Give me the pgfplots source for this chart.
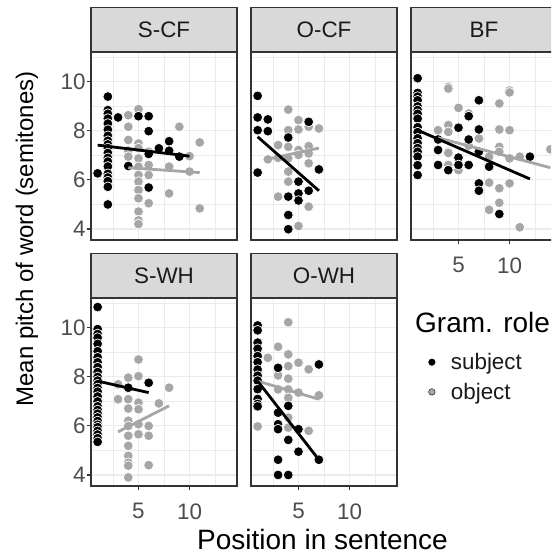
\documentclass[border=0pt]{standalone}
\usepackage{fontspec}
\setmainfont{Liberation Sans}
\usepackage{pgfplots}
\pgfplotsset{compat=1.18}
\definecolor{obj}{HTML}{A6A6A6}
\definecolor{grey20}{HTML}{333333}
\definecolor{grey30}{HTML}{4D4D4D}
\definecolor{grey85}{HTML}{D9D9D9}
\definecolor{grey92}{HTML}{EBEBEB}
\definecolor{grey10}{HTML}{1A1A1A}
\newcommand\tickfont{\fontsize{22.4}{26}\selectfont}
\newcommand\titlefont{\fontsize{28}{32}\selectfont}
\newcommand\ytitlefont{\fontsize{24}{28}\selectfont}

\pgfplotsset{
  panel/.style={
    scale only axis, width=146pt, height=188pt,
    xmin=0.35, xmax=14.65, ymin=3.55, ymax=11.22,
    xtick={5,10}, ytick={4,6,8,10},
    minor xtick={2.5,7.5,12.5}, minor ytick={5,7,9,11},
    grid=both,
    major grid style={grey92, line width=1.1pt},
    minor grid style={grey92, line width=0.55pt},
    axis line style={grey20, line width=1.1pt},
    tick align=outside, major tick length=4pt, minor tick length=0pt,
    every tick/.style={grey20, line width=1.1pt},
    tick pos=left,
    tick label style={font=\tickfont, text=grey30},
    xticklabel style={yshift=-10pt},
    yticklabel style={xshift=2pt},
    /pgf/number format/assume math mode=true,
    every axis title shift=0pt,
    title style={at={(0.5,1)}, anchor=south, draw=grey20, line width=1.1pt,
      fill=grey85, minimum width=146pt, minimum height=43.5pt, inner sep=0pt,
      font=\tickfont, text=grey10, yshift=0pt},
    clip mode=individual,
  },
  nox/.style={xticklabels={}, xtick style={draw=none}},
  noy/.style={yticklabels={}, ytick style={draw=none}},
  sub/.style={only marks, mark=*, mark size=4.9pt,
    mark options={fill=black, draw=white, line width=0.7pt}},
  ob/.style={only marks, mark=*, mark size=4.9pt,
    mark options={fill=obj, draw=white, line width=0.7pt}},
  subl/.style={black, line width=2.8pt, no marks},
  obl/.style={obj, line width=2.8pt, no marks},
}

\begin{document}
\begin{tikzpicture}
\useasboundingbox (0,0) rectangle (551pt,556pt);
\clip (0,0) rectangle (551pt,556pt);

% ---------------- S-CF
\begin{axis}[panel, nox, at={(91pt,316pt)}, anchor=south west, title={S-CF}]
\addplot[ob] coordinates {
(4,8.64)(4,8.17)(4,7.63)(4,7.2)(4,6.95)
(5,8.89)(5,7.49)(5,7.3)(5,6.88)(5,6.54)(5,6.2)(5,5.93)(5,5.59)(5,5.25)(5,4.71)(5,4.35)(5,4.2)
(6,7.15)(6,6.61)(6,6.2)(6,5.05)(8,6.54)(8,5.45)(9,8.17)(10,6.97)(10,6.34)(11,7.53)(11,4.84)};
\addplot[sub] coordinates {
(1,6.27)
(2,9.4)(2,8.85)(2,8.7)(2,8.5)(2,8.3)(2,8.05)(2,7.8)(2,7.6)(2,7.45)(2,7.3)(2,7.1)(2,6.9)
(2,6.75)(2,6.55)(2,6.25)(2,6.1)(2,5.95)(2,5.72)(2,5.0)
(3,8.55)(4,6.57)(5,8.6)(6,8.6)(6,7.99)(6,7.06)(6,5.69)(7,7.29)(8,7.58)(8,7.19)(9,6.95)};
\addplot[obl] coordinates {(4,6.5)(11,6.3)};
\addplot[subl] coordinates {(1,7.42)(10,6.97)};
\end{axis}

% ---------------- O-CF
\begin{axis}[panel, nox, noy, at={(251pt,316pt)}, anchor=south west, title={O-CF}]
\addplot[ob] coordinates {
(4,8.87)(5,8.44)(4,8.03)(5,8.06)(6,8.17)(7,8.10)(3,7.42)(4,7.35)(5,7.22)(6,7.38)
(2,6.84)(3,6.9)(4,6.88)(5,7.02)(6,7.08)(6,6.68)(4,6.34)(4,5.93)(3,5.32)(6,4.91)(5,4.12)};
\addplot[sub] coordinates {
(1,9.43)(1,8.55)(1,8.03)(1,6.30)(2,8.47)(2,7.99)(4,7.73)(6,8.37)(7,6.43)(5,5.93)
(6,5.56)(5,5.45)(5,5.16)(4,5.32)(4,4.57)(4,3.99)};
\addplot[obl] coordinates {(2,6.85)(7,7.3)};
\addplot[subl] coordinates {(1,7.76)(7,5.56)};
\end{axis}

% ---------------- BF
\begin{axis}[panel, noy, at={(411pt,316pt)}, anchor=south west, title={BF}]
\addplot[ob] coordinates {
(4,9.8)(4,9.73)(4,8.24)(4,7.96)(4,7.15)(4,7.1)(4,6.61)(3,8.03)(5,8.94)(5,6.5)(5,6.40)
(6,8.71)(6,7.4)(7,7.69)(8,6.95)(8,5.89)(8,4.78)(9,9.12)(9,8.06)(9,7.35)(9,7.15)(9,5.66)(9,5.07)
(10,9.65)(10,9.57)(10,8.03)(10,6.88)(10,5.86)(11,6.95)(11,4.07)(14,7.25)};
\addplot[sub] coordinates {
(1,10.15)(1,9.55)(1,9.4)(1,9.25)(1,9.0)(1,8.85)(1,8.7)(1,8.5)(1,8.15)(1,7.95)(1,7.7)
(1,7.5)(1,7.3)(1,7.15)(1,6.95)(1,6.6)(1,6.2)
(3,7.65)(3,7.22)(3,6.61)(4,6.40)(5,8.13)(5,6.91)(5,6.61)(6,8.6)(6,7.65)(6,6.61)
(7,9.25)(7,8.06)(7,7.15)(7,5.86)(7,5.56)(8,6.54)(9,4.61)(12,6.95)};
\addplot[obl] coordinates {(3,7.72)(14,6.5)};
\addplot[subl] coordinates {(1,8.03)(12,6.04)};
\end{axis}

% ---------------- S-WH
\begin{axis}[panel, at={(91pt,70pt)}, anchor=south west, title={S-WH}]
\addplot[ob] coordinates {
(3,7.09)(3,7.70)(4,7.97)(4,7.52)(4,7.09)(4,6.71)(4,6.21)(4,6.0)(4,5.6)(4,5.19)(4,4.78)
(4,4.5)(4,4.38)(4,3.90)(5,8.71)(5,8.03)(5,6.95)(5,6.68)(5,6.07)(5,5.66)(6,6.0)(6,5.6)
(6,4.40)(7,6.92)(8,7.56)};
\addplot[sub] coordinates {
(1,10.85)(1,9.95)(1,9.75)(1,9.6)(1,9.35)(1,9.05)(1,8.8)(1,8.6)(1,8.4)(1,8.2)(1,8.0)
(1,7.85)(1,7.7)(1,7.55)(1,7.4)(1,7.2)(1,7.0)(1,6.8)(1,6.65)(1,6.5)(1,6.35)(1,6.2)
(1,6.05)(1,5.95)(1,5.8)(1,5.65)(1,5.5)(1,5.35)
(4,7.56)(6,7.76)};
\addplot[obl] coordinates {(3,5.76)(8,6.82)};
\addplot[subl] coordinates {(1,7.83)(6,7.36)};
\end{axis}

% ---------------- O-WH
\begin{axis}[panel, noy, at={(251pt,70pt)}, anchor=south west, title={O-WH},
  legend style={at={(rel axis cs:1.215,0.705)}, anchor=north west, draw=none,
    fill=none, inner sep=0pt, outer sep=0pt, row sep=12pt, column sep=15.5pt,
    nodes={inner sep=0pt, anchor=base west}, font=\tickfont, text=grey10},
  legend cell align=left,
  legend image code/.code={\fill[#1] (0pt,7.5pt) circle (3.3pt);}]
\addlegendimage{fill=black}
\addlegendentry{subject}
\addlegendimage{fill=obj}
\addlegendentry{object}
\addplot[ob] coordinates {
(1,9.93)(1,5.98)(1,7.6)(2,8.78)(3,9.23)(3,8.06)(3,7.49)(3,6.0)(4,10.23)(4,8.92)(4,8.44)
(4,7.93)(4,7.49)(4,7.15)(4,6.34)(4,5.93)(5,8.58)(5,7.36)(6,8.31)(6,5.80)(7,7.25)};
\addplot[sub] coordinates {
(1,10.1)(1,9.9)(1,9.4)(1,9.15)(1,8.85)(1,8.6)(1,8.3)(1,8.05)(1,7.85)(1,7.5)(1,7.1)
(1,6.9)(1,6.8)
(3,8.37)(3,6.54)(3,6.07)(3,5.87)(3,4.62)(3,4.0)(4,6.82)(4,5.43)(4,4.0)(5,5.87)(5,4.95)
(7,8.51)(7,4.62)};
\addplot[obl] coordinates {(1,7.83)(7,7.09)};
\addplot[subl] coordinates {(1,7.83)(7,4.62)};
\end{axis}

% ---------------- titles
\node[font=\titlefont, text=black, anchor=base, inner sep=0pt] at (322.5pt,6pt) {Position in sentence};
\node[font=\ytitlefont, text=black, anchor=base, rotate=90, inner sep=0pt] at (33pt,317pt) {Mean pitch of word (semitones)};
\node[font=\titlefont, text=black, anchor=base west, inner sep=0pt] at (415pt,223pt) {Gram. role};
\end{tikzpicture}
\end{document}
